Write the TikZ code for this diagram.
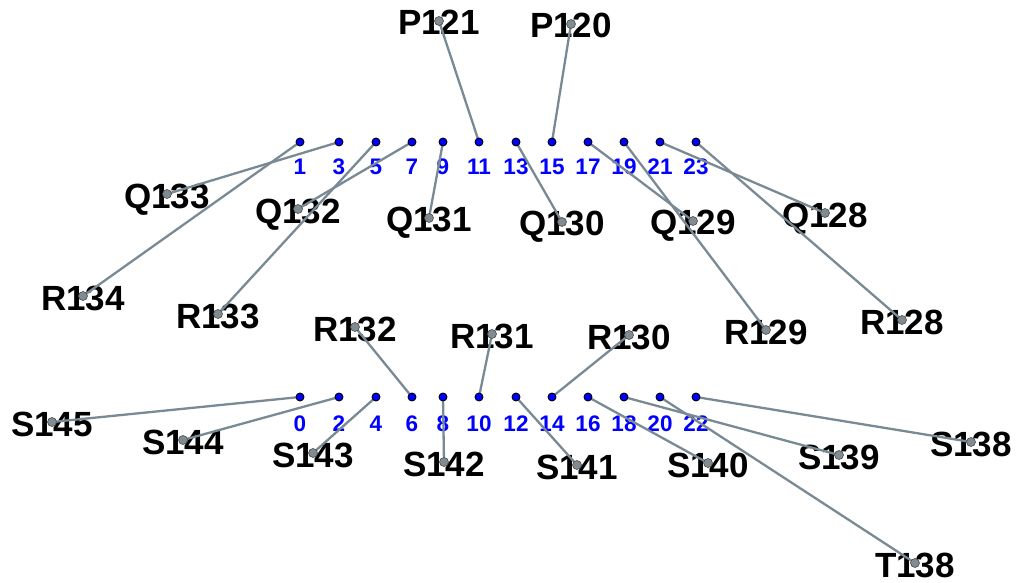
\documentclass[tikz,border=0pt]{standalone}
\usepackage{fontspec}
\setmainfont{Liberation Sans}
\begin{document}
\begin{tikzpicture}[x=1pt,y=-1pt,
  lbl/.style={font=\fontsize{35}{40}\selectfont\bfseries, text=black, inner sep=0pt, anchor=base},
  num/.style={font=\fontsize{22.5}{26}\selectfont\bfseries, text=blue, inner sep=0pt, anchor=base},
  wire/.style={draw=linegray, line width=2.3pt},
  pindot/.style={circle, fill=blue, draw=black, line width=0.9pt, minimum size=8pt, inner sep=0pt},
  enddot/.style={circle, fill=dotgray, draw=black!70, line width=0.6pt, minimum size=9pt, inner sep=0pt}]
\definecolor{linegray}{HTML}{7A8A94}
\definecolor{dotgray}{HTML}{808B92}
\useasboundingbox (0,0) rectangle (1021,583);
% pins
\foreach \n/\x in {1/300,3/339,5/376,7/412,9/443,11/479,13/516,15/552,17/588,19/624,21/660,23/696}{
  \coordinate (p\n) at (\x,142);
  \node[num] (t\n) at (\x,175) {\n};
}
\foreach \n/\x in {0/300,2/339,4/376,6/412,8/443,10/479,12/516,14/552,16/588,18/624,20/660,22/696}{
  \coordinate (p\n) at (\x,397);
  \node[num] (t\n) at (\x,431) {\n};
}
% labels: name/x/y
\foreach \l/\x/\y in {P121/439/21, P120/571/24,
  Q133/167/194, Q132/298/209, Q131/429/218, Q130/562/222, Q129/693/221, Q128/825/213,
  R134/83/296, R133/218/314, R132/355/327, R131/492/334, R130/629/335, R129/766/330, R128/902/320,
  S145/52/422, S144/183/440, S143/313/453, S142/444/462, S141/577/465, S140/708/463, S139/839/455, S138/971/442,
  T138/915/563}{
  \coordinate (d\l) at (\x,\y);
  \node[lbl] (n\l) at (\x,\y+14) {\l};
}
% wires
\foreach \l/\p in {P121/11, P120/15, Q133/3, Q132/7, Q131/9, Q130/13, Q129/17, Q128/21,
  R134/1, R133/5, R132/6, R131/10, R130/14, R129/19, R128/23,
  S145/0, S144/2, S143/4, S142/8, S141/12, S140/16, S139/18, S138/22, T138/20}{
  \draw[wire] (d\l) -- (p\p);
}
% dots
\foreach \n in {0,...,23}{ \node[pindot] (pd\n) at (p\n) {}; }
\foreach \l in {P121,P120,Q133,Q132,Q131,Q130,Q129,Q128,R134,R133,R132,R131,R130,R129,R128,S145,S144,S143,S142,S141,S140,S139,S138,T138}{
  \node[enddot] (e\l) at (d\l) {};
}
\end{tikzpicture}
\end{document}
